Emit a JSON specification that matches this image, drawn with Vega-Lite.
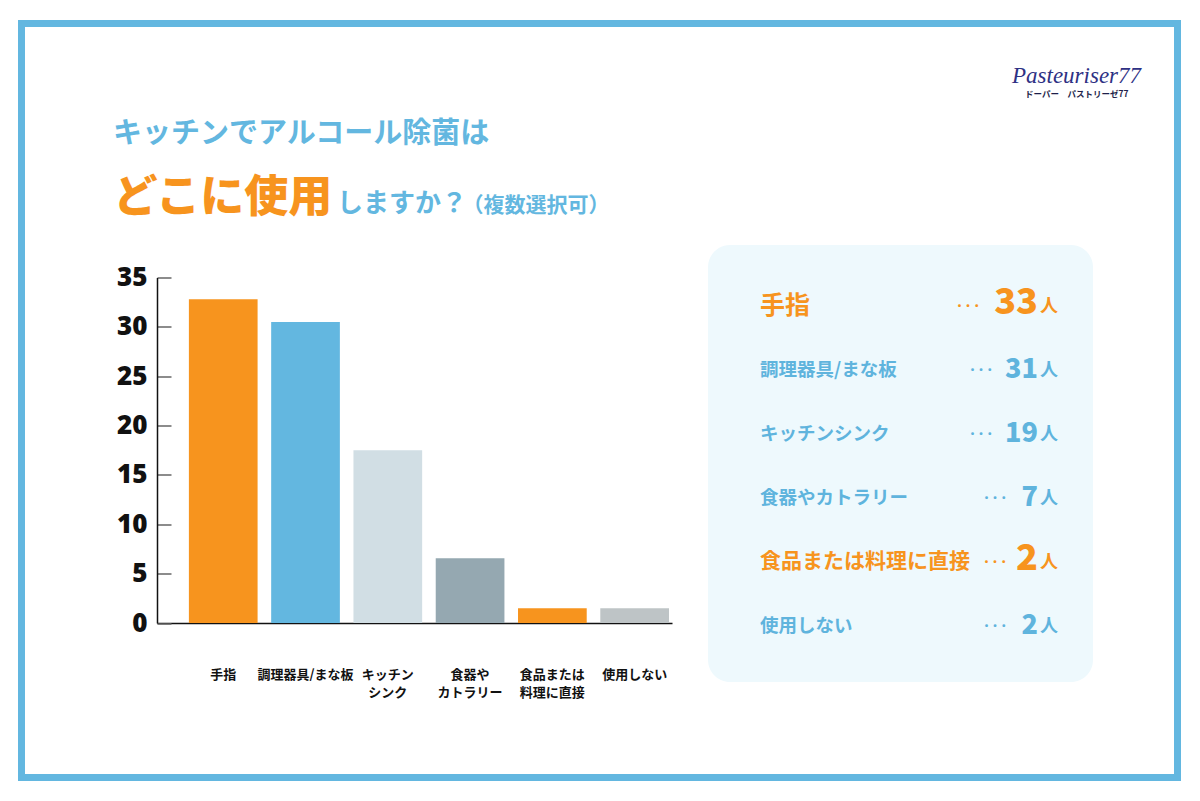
{
  "$schema": "https://vega.github.io/schema/vega-lite/v6.json",
  "width": 1156,
  "height": 754,
  "autosize": {"type": "none"},
  "padding": {"left": 21.5, "top": 23.5, "right": 22.5, "bottom": 23.5},
  "background": "white",
  "config": {
    "view": {"stroke": "#63B7E0", "strokeWidth": 7, "fill": "white"},
    "font": "Noto Sans CJK JP"
  },
  "datasets": {
    "uses": [
      {"category": "手指", "value": 32.8, "count": 33},
      {"category": "調理器具/まな板", "value": 30.5, "count": 31},
      {"category": "キッチンシンク", "value": 17.5, "count": 19},
      {"category": "食器やカトラリー", "value": 6.55, "count": 7},
      {"category": "食品または料理に直接", "value": 1.5, "count": 2},
      {"category": "使用しない", "value": 1.5, "count": 2}
    ]
  },
  "resolve": {"scale": {"x": "independent", "y": "independent", "color": "independent", "size": "independent"}},
  "layer": [
    {
      "data": {"values": [{"panel": "summary"}]},
      "mark": {"type": "rect", "fill": "#EEF9FD", "cornerRadius": 22},
      "encoding": {
        "x": {"datum": 0, "type": "quantitative", "scale": {"domain": [0, 1], "range": [686.5, 1071.5]}, "axis": null},
        "x2": {"datum": 1},
        "y": {"datum": 0, "type": "quantitative", "scale": {"domain": [0, 1], "range": [221.5, 658.5]}, "axis": null},
        "y2": {"datum": 1}
      }
    },
    {
      "data": {"name": "uses"},
      "mark": {"type": "bar"},
      "encoding": {
        "x": {
          "field": "category", "type": "nominal", "sort": null,
          "scale": {"range": [135.5, 650.5], "paddingInner": 0.165, "paddingOuter": 0.212, "align": 0.914},
          "axis": {
            "title": null, "orient": "bottom", "offset": -154.5, "labelAngle": 0,
            "ticks": false, "domainColor": "#111", "domainWidth": 1.5,
            "labelFont": "Noto Sans CJK JP", "labelFontWeight": "bold", "labelFontSize": 13,
            "labelColor": "#111", "labelPadding": 45, "labelLineHeight": 18, "labelBaseline": "top",
            "labelExpr": "datum.value == 'キッチンシンク' ? ['キッチン', 'シンク'] : datum.value == '食器やカトラリー' ? ['食器や', 'カトラリー'] : datum.value == '食品または料理に直接' ? ['食品または', '料理に直接'] : datum.value"
          }
        },
        "y": {
          "field": "value", "type": "quantitative",
          "scale": {"domain": [0, 35], "range": [599.5, 254], "nice": false},
          "axis": {
            "title": null, "orient": "left", "offset": -135.5, "grid": false,
            "values": [0, 5, 10, 15, 20, 25, 30, 35],
            "domainColor": "#111", "domainWidth": 1.5,
            "tickSize": -14, "tickColor": "#666", "tickWidth": 1.5,
            "labelPadding": 24, "labelFont": "Noto Sans", "labelFontWeight": 900,
            "labelFontSize": 26, "labelColor": "#111"
          }
        },
        "color": {
          "field": "category", "type": "nominal", "legend": null,
          "scale": {
            "domain": ["手指", "調理器具/まな板", "キッチンシンク", "食器やカトラリー", "食品または料理に直接", "使用しない"],
            "range": ["#F7941E", "#63B7E0", "#D1DEE4", "#95A8B1", "#F7941E", "#BEC4C6"]
          }
        }
      }
    },
    {
      "data": {"name": "uses"},
      "mark": {"type": "text", "align": "left", "baseline": "middle", "fontWeight": "bold", "font": "Noto Sans CJK JP"},
      "encoding": {
        "x": {"datum": 0, "type": "quantitative", "scale": {"domain": [0, 1], "range": [738.5, 1036.5]}, "axis": null},
        "y": {"field": "category", "type": "nominal", "sort": null, "scale": {"type": "point", "domain": ["手指", "調理器具/まな板", "キッチンシンク", "食器やカトラリー", "食品または料理に直接", "使用しない"], "range": [282.5, 602.5], "padding": 0}, "axis": null},
        "text": {"field": "category"},
        "color": {"condition": {"test": "datum.category == '手指' || datum.category == '食品または料理に直接'", "value": "#F7941E"}, "value": "#5FB4DD"},
        "size": {"condition": [{"test": "datum.category == '手指'", "value": 25}, {"test": "datum.category == '食品または料理に直接'", "value": 21}], "value": 18.5}
      }
    },
    {
      "data": {"name": "uses"},
      "mark": {"type": "text", "align": "right", "baseline": "alphabetic", "dx": -20, "dy": 8, "fontWeight": 900, "font": "Noto Sans CJK JP"},
      "encoding": {
        "x": {"datum": 1, "type": "quantitative", "scale": {"domain": [0, 1], "range": [738.5, 1036.5]}, "axis": null},
        "y": {"field": "category", "type": "nominal", "sort": null, "scale": {"type": "point", "domain": ["手指", "調理器具/まな板", "キッチンシンク", "食器やカトラリー", "食品または料理に直接", "使用しない"], "range": [282.5, 602.5], "padding": 0}, "axis": null},
        "text": {"field": "count"},
        "color": {"condition": {"test": "datum.category == '手指' || datum.category == '食品または料理に直接'", "value": "#F7941E"}, "value": "#5FB4DD"},
        "size": {"condition": {"test": "datum.category == '手指' || datum.category == '食品または料理に直接'", "value": 36}, "value": 27}
      }
    },
    {
      "data": {"name": "uses"},
      "mark": {"type": "text", "align": "right", "baseline": "alphabetic", "dy": 6, "fontWeight": "bold", "fontSize": 18, "font": "Noto Sans CJK JP", "text": "人"},
      "encoding": {
        "x": {"datum": 1, "type": "quantitative", "scale": {"domain": [0, 1], "range": [738.5, 1036.5]}, "axis": null},
        "y": {"field": "category", "type": "nominal", "sort": null, "scale": {"type": "point", "domain": ["手指", "調理器具/まな板", "キッチンシンク", "食器やカトラリー", "食品または料理に直接", "使用しない"], "range": [282.5, 602.5], "padding": 0}, "axis": null},
        "color": {"condition": {"test": "datum.category == '手指' || datum.category == '食品または料理に直接'", "value": "#F7941E"}, "value": "#5FB4DD"}
      }
    },
    {
      "data": {"name": "uses"},
      "transform": [{"filter": "datum.count >= 10 && datum.category != '手指'"}],
      "mark": {"type": "text", "align": "right", "baseline": "middle", "dx": -66, "fontWeight": "bold", "fontSize": 16, "font": "Noto Sans", "text": "·  ·  ·"},
      "encoding": {
        "x": {"datum": 1, "type": "quantitative", "scale": {"domain": [0, 1], "range": [738.5, 1036.5]}, "axis": null},
        "y": {"field": "category", "type": "nominal", "sort": null, "scale": {"type": "point", "domain": ["手指", "調理器具/まな板", "キッチンシンク", "食器やカトラリー", "食品または料理に直接", "使用しない"], "range": [282.5, 602.5], "padding": 0}, "axis": null},
        "color": {"value": "#5FB4DD"}
      }
    },
    {
      "data": {"name": "uses"},
      "transform": [{"filter": "datum.category == '手指'"}],
      "mark": {"type": "text", "align": "right", "baseline": "middle", "dx": -79, "fontWeight": "bold", "fontSize": 16, "font": "Noto Sans", "text": "·  ·  ·"},
      "encoding": {
        "x": {"datum": 1, "type": "quantitative", "scale": {"domain": [0, 1], "range": [738.5, 1036.5]}, "axis": null},
        "y": {"field": "category", "type": "nominal", "sort": null, "scale": {"type": "point", "domain": ["手指", "調理器具/まな板", "キッチンシンク", "食器やカトラリー", "食品または料理に直接", "使用しない"], "range": [282.5, 602.5], "padding": 0}, "axis": null},
        "color": {"value": "#F7941E"}
      }
    },
    {
      "data": {"name": "uses"},
      "transform": [{"filter": "datum.count < 10"}],
      "mark": {"type": "text", "align": "right", "baseline": "middle", "dx": -52, "fontWeight": "bold", "fontSize": 16, "font": "Noto Sans", "text": "·  ·  ·"},
      "encoding": {
        "x": {"datum": 1, "type": "quantitative", "scale": {"domain": [0, 1], "range": [738.5, 1036.5]}, "axis": null},
        "y": {"field": "category", "type": "nominal", "sort": null, "scale": {"type": "point", "domain": ["手指", "調理器具/まな板", "キッチンシンク", "食器やカトラリー", "食品または料理に直接", "使用しない"], "range": [282.5, 602.5], "padding": 0}, "axis": null},
        "color": {"condition": {"test": "datum.category == '食品または料理に直接'", "value": "#F7941E"}, "value": "#5FB4DD"}
      }
    },
    {
      "data": {"values": [{"heading": "キッチンでアルコール除菌は"}]},
      "mark": {"type": "text", "align": "left", "baseline": "alphabetic", "fontWeight": "bold", "fontSize": 29, "color": "#63B7E0", "font": "Noto Sans CJK JP"},
      "encoding": {
        "x": {"datum": 91.5, "type": "quantitative", "scale": {"domain": [0, 1156], "range": [0, 1156]}, "axis": null},
        "y": {"datum": 119, "type": "quantitative", "scale": {"domain": [0, 754], "range": [0, 754]}, "axis": null},
        "text": {"field": "heading"}
      }
    },
    {
      "data": {"values": [{"heading": "どこに使用"}]},
      "mark": {"type": "text", "align": "left", "baseline": "alphabetic", "fontWeight": 900, "fontSize": 44, "color": "#F7941E", "font": "Noto Sans CJK JP"},
      "encoding": {
        "x": {"datum": 92, "type": "quantitative", "scale": {"domain": [0, 1156], "range": [0, 1156]}, "axis": null},
        "y": {"datum": 188.5, "type": "quantitative", "scale": {"domain": [0, 754], "range": [0, 754]}, "axis": null},
        "text": {"field": "heading"}
      }
    },
    {
      "data": {"values": [{"heading": "しますか？"}]},
      "mark": {"type": "text", "align": "left", "baseline": "alphabetic", "fontWeight": "bold", "fontSize": 26, "color": "#63B7E0", "font": "Noto Sans CJK JP"},
      "encoding": {
        "x": {"datum": 315.5, "type": "quantitative", "scale": {"domain": [0, 1156], "range": [0, 1156]}, "axis": null},
        "y": {"datum": 188.5, "type": "quantitative", "scale": {"domain": [0, 754], "range": [0, 754]}, "axis": null},
        "text": {"field": "heading"}
      }
    },
    {
      "data": {"values": [{"heading": "（複数選択可）"}]},
      "mark": {"type": "text", "align": "left", "baseline": "alphabetic", "fontWeight": "bold", "fontSize": 21, "color": "#63B7E0", "font": "Noto Sans CJK JP"},
      "encoding": {
        "x": {"datum": 441, "type": "quantitative", "scale": {"domain": [0, 1156], "range": [0, 1156]}, "axis": null},
        "y": {"datum": 188.5, "type": "quantitative", "scale": {"domain": [0, 754], "range": [0, 754]}, "axis": null},
        "text": {"field": "heading"}
      }
    },
    {
      "data": {"values": [{"brand": "Pasteuriser77"}]},
      "mark": {"type": "text", "align": "left", "baseline": "alphabetic", "fontStyle": "italic", "fontSize": 23, "color": "#2E3184", "font": "Liberation Serif"},
      "encoding": {
        "x": {"datum": 990.5, "type": "quantitative", "scale": {"domain": [0, 1156], "range": [0, 1156]}, "axis": null},
        "y": {"datum": 59, "type": "quantitative", "scale": {"domain": [0, 754], "range": [0, 754]}, "axis": null},
        "text": {"field": "brand"}
      }
    },
    {
      "data": {"values": [{"brand": "ドーパー　パストリーゼ77"}]},
      "mark": {"type": "text", "align": "left", "baseline": "alphabetic", "fontWeight": "bold", "fontSize": 8.5, "color": "#1E1F4A", "font": "Noto Sans CJK JP"},
      "encoding": {
        "x": {"datum": 1003.5, "type": "quantitative", "scale": {"domain": [0, 1156], "range": [0, 1156]}, "axis": null},
        "y": {"datum": 73.5, "type": "quantitative", "scale": {"domain": [0, 754], "range": [0, 754]}, "axis": null},
        "text": {"field": "brand"}
      }
    }
  ]
}
